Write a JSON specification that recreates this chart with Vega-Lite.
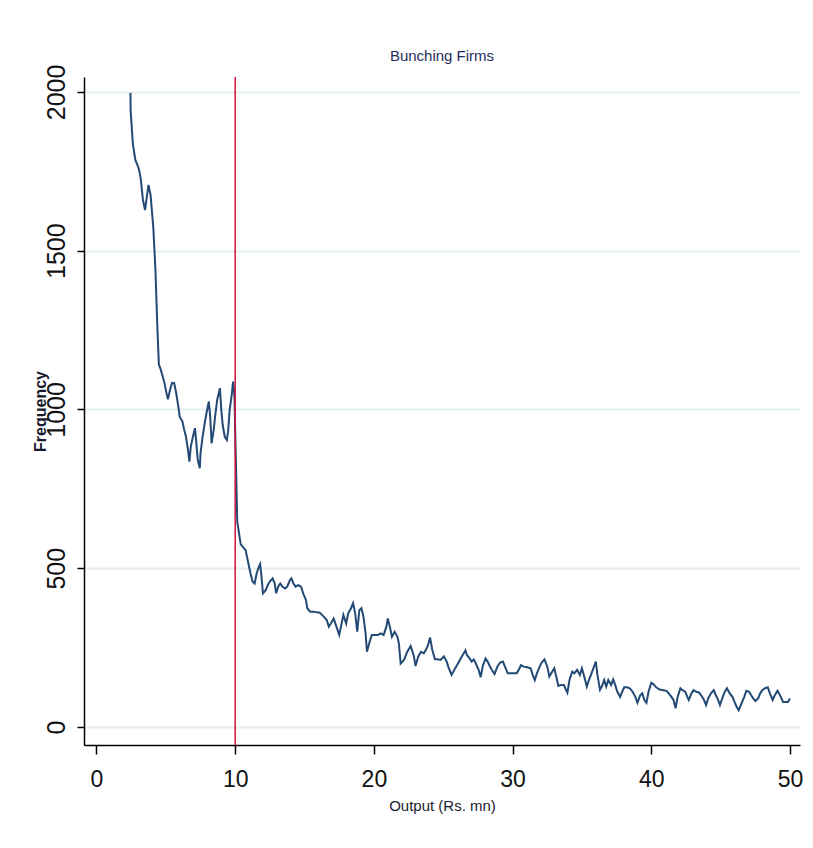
{
"$schema": "https://vega.github.io/schema/vega-lite/v6.json",
"width": 716,
"height": 668,
"autosize": {"type": "none"},
"padding": {"left": 84, "top": 77, "right": 13, "bottom": 103},
"background": "white",
"title": {"text": "Bunching Firms", "fontSize": 15, "font": "Liberation Sans, sans-serif", "fontWeight": "normal", "color": "#1f2d5c", "offset": 0, "anchor": "middle"},
"config": {"view": {"stroke": null}},
"layer": [
{
"data": {"values": [
{"x":2.45,"y":1997},{"x":2.46,"y":1943},{"x":2.62,"y":1838},{"x":2.8,"y":1786},{"x":3.0,"y":1765},{"x":3.1,"y":1749},{"x":3.2,"y":1723},{"x":3.35,"y":1660},{"x":3.5,"y":1628},{"x":3.6,"y":1660},{"x":3.75,"y":1707},{"x":3.9,"y":1675},{"x":4.0,"y":1623},{"x":4.1,"y":1571},{"x":4.25,"y":1439},{"x":4.4,"y":1245},{"x":4.5,"y":1140},{"x":4.6,"y":1130},{"x":4.78,"y":1103},{"x":4.9,"y":1083},{"x":5.05,"y":1051},{"x":5.15,"y":1032},{"x":5.3,"y":1061},{"x":5.45,"y":1084},{"x":5.6,"y":1083},{"x":5.75,"y":1051},{"x":5.9,"y":1009},{"x":6.0,"y":977},{"x":6.2,"y":962},{"x":6.3,"y":941},{"x":6.45,"y":914},{"x":6.6,"y":872},{"x":6.7,"y":836},{"x":6.8,"y":883},{"x":6.95,"y":914},{"x":7.1,"y":941},{"x":7.2,"y":893},{"x":7.3,"y":841},{"x":7.45,"y":815},{"x":7.5,"y":862},{"x":7.65,"y":914},{"x":7.8,"y":956},{"x":7.95,"y":993},{"x":8.1,"y":1025},{"x":8.2,"y":977},{"x":8.3,"y":893},{"x":8.45,"y":935},{"x":8.55,"y":977},{"x":8.7,"y":1030},{"x":8.9,"y":1067},{"x":9.0,"y":998},{"x":9.1,"y":951},{"x":9.25,"y":914},{"x":9.4,"y":904},{"x":9.5,"y":935},{"x":9.6,"y":998},{"x":9.75,"y":1046},{"x":9.85,"y":1088},{"x":9.95,"y":1040},{"x":10.0,"y":935},{"x":10.08,"y":780},{"x":10.15,"y":646},{"x":10.4,"y":575},{"x":10.75,"y":557},{"x":10.9,"y":526},{"x":11.1,"y":484},{"x":11.25,"y":458},{"x":11.4,"y":452},{"x":11.55,"y":484},{"x":11.67,"y":500},{"x":11.8,"y":513},{"x":11.9,"y":473},{"x":12.0,"y":421},{"x":12.2,"y":431},{"x":12.35,"y":447},{"x":12.5,"y":458},{"x":12.7,"y":468},{"x":12.85,"y":452},{"x":12.95,"y":421},{"x":13.1,"y":442},{"x":13.25,"y":452},{"x":13.4,"y":442},{"x":13.6,"y":436},{"x":13.75,"y":442},{"x":13.95,"y":463},{"x":14.05,"y":468},{"x":14.2,"y":452},{"x":14.35,"y":442},{"x":14.55,"y":447},{"x":14.75,"y":442},{"x":14.9,"y":421},{"x":15.1,"y":400},{"x":15.2,"y":374},{"x":15.4,"y":363},{"x":15.65,"y":363},{"x":15.9,"y":361},{"x":16.1,"y":360},{"x":16.4,"y":347},{"x":16.6,"y":337},{"x":16.75,"y":316},{"x":16.9,"y":326},{"x":17.1,"y":342},{"x":17.3,"y":316},{"x":17.5,"y":290},{"x":17.65,"y":321},{"x":17.8,"y":353},{"x":18.0,"y":326},{"x":18.15,"y":358},{"x":18.35,"y":374},{"x":18.5,"y":390},{"x":18.65,"y":358},{"x":18.8,"y":300},{"x":18.95,"y":368},{"x":19.1,"y":374},{"x":19.25,"y":347},{"x":19.4,"y":295},{"x":19.5,"y":237},{"x":19.7,"y":269},{"x":19.85,"y":290},{"x":20.05,"y":290},{"x":20.3,"y":290},{"x":20.5,"y":295},{"x":20.7,"y":290},{"x":20.9,"y":316},{"x":21.0,"y":342},{"x":21.15,"y":316},{"x":21.3,"y":284},{"x":21.5,"y":300},{"x":21.7,"y":284},{"x":21.8,"y":263},{"x":21.93,"y":200},{"x":22.17,"y":211},{"x":22.41,"y":237},{"x":22.65,"y":255},{"x":22.89,"y":222},{"x":23.0,"y":192},{"x":23.2,"y":222},{"x":23.4,"y":237},{"x":23.6,"y":232},{"x":23.75,"y":243},{"x":23.9,"y":258},{"x":24.05,"y":282},{"x":24.2,"y":245},{"x":24.4,"y":213},{"x":24.6,"y":213},{"x":24.8,"y":211},{"x":25.05,"y":222},{"x":25.25,"y":206},{"x":25.4,"y":185},{"x":25.6,"y":164},{"x":25.8,"y":180},{"x":26.0,"y":195},{"x":26.2,"y":211},{"x":26.4,"y":227},{"x":26.6,"y":241},{"x":26.7,"y":227},{"x":26.9,"y":216},{"x":27.05,"y":206},{"x":27.2,"y":213},{"x":27.35,"y":200},{"x":27.55,"y":180},{"x":27.7,"y":157},{"x":27.85,"y":192},{"x":28.05,"y":216},{"x":28.2,"y":206},{"x":28.35,"y":192},{"x":28.5,"y":180},{"x":28.7,"y":167},{"x":28.9,"y":190},{"x":29.1,"y":203},{"x":29.3,"y":206},{"x":29.45,"y":190},{"x":29.65,"y":169},{"x":29.9,"y":169},{"x":30.1,"y":169},{"x":30.3,"y":169},{"x":30.5,"y":185},{"x":30.6,"y":195},{"x":30.8,"y":190},{"x":31.05,"y":188},{"x":31.3,"y":185},{"x":31.45,"y":164},{"x":31.6,"y":148},{"x":31.75,"y":169},{"x":31.95,"y":190},{"x":32.1,"y":203},{"x":32.3,"y":213},{"x":32.5,"y":190},{"x":32.65,"y":159},{"x":32.85,"y":174},{"x":33.0,"y":185},{"x":33.15,"y":159},{"x":33.3,"y":129},{"x":33.5,"y":132},{"x":33.7,"y":132},{"x":33.85,"y":117},{"x":33.95,"y":108},{"x":34.1,"y":148},{"x":34.3,"y":174},{"x":34.45,"y":169},{"x":34.65,"y":180},{"x":34.85,"y":164},{"x":35.0,"y":185},{"x":35.2,"y":153},{"x":35.35,"y":127},{"x":35.5,"y":148},{"x":35.65,"y":164},{"x":35.8,"y":182},{"x":36.0,"y":206},{"x":36.1,"y":169},{"x":36.3,"y":117},{"x":36.45,"y":129},{"x":36.6,"y":148},{"x":36.75,"y":127},{"x":36.9,"y":148},{"x":37.1,"y":132},{"x":37.25,"y":150},{"x":37.4,"y":132},{"x":37.55,"y":111},{"x":37.75,"y":95},{"x":37.9,"y":111},{"x":38.05,"y":125},{"x":38.25,"y":125},{"x":38.45,"y":122},{"x":38.65,"y":111},{"x":38.85,"y":95},{"x":39.0,"y":76},{"x":39.2,"y":100},{"x":39.35,"y":106},{"x":39.5,"y":85},{"x":39.65,"y":76},{"x":39.8,"y":111},{"x":40.0,"y":139},{"x":40.15,"y":135},{"x":40.35,"y":125},{"x":40.6,"y":118},{"x":40.85,"y":116},{"x":41.1,"y":114},{"x":41.25,"y":106},{"x":41.45,"y":95},{"x":41.6,"y":85},{"x":41.75,"y":59},{"x":41.9,"y":95},{"x":42.1,"y":122},{"x":42.25,"y":116},{"x":42.45,"y":111},{"x":42.6,"y":95},{"x":42.7,"y":85},{"x":42.9,"y":106},{"x":43.05,"y":116},{"x":43.25,"y":111},{"x":43.45,"y":108},{"x":43.6,"y":100},{"x":43.8,"y":85},{"x":43.95,"y":69},{"x":44.1,"y":90},{"x":44.3,"y":106},{"x":44.5,"y":116},{"x":44.65,"y":100},{"x":44.8,"y":87},{"x":44.95,"y":69},{"x":45.15,"y":95},{"x":45.3,"y":111},{"x":45.45,"y":122},{"x":45.65,"y":106},{"x":45.85,"y":95},{"x":46.0,"y":79},{"x":46.15,"y":64},{"x":46.3,"y":53},{"x":46.5,"y":74},{"x":46.7,"y":95},{"x":46.85,"y":114},{"x":47.05,"y":111},{"x":47.2,"y":100},{"x":47.35,"y":90},{"x":47.5,"y":82},{"x":47.7,"y":90},{"x":47.85,"y":106},{"x":48.0,"y":116},{"x":48.2,"y":122},{"x":48.4,"y":125},{"x":48.55,"y":106},{"x":48.75,"y":85},{"x":48.9,"y":100},{"x":49.1,"y":114},{"x":49.3,"y":98},{"x":49.5,"y":79},{"x":49.7,"y":79},{"x":49.85,"y":79},{"x":50.0,"y":90}
]},
"mark": {"type": "line", "color": "#234a74", "strokeWidth": 2},
"encoding": {
"x": {"field": "x", "type": "quantitative", "scale": {"domain": [-0.9, 50.72], "nice": false, "zero": false},
"axis": {"values": [0, 10, 20, 30, 40, 50], "format": "d", "title": "Output (Rs. mn)", "titleFont": "Liberation Sans, sans-serif", "titleFontSize": 15, "titleFontWeight": "normal", "titleColor": "#1a1a2e", "titleY": 60, "titleBaseline": "middle",
"labelFont": "Liberation Sans, sans-serif", "labelFontSize": 23, "labelColor": "#111111", "labelPadding": 14, "tickSize": 9, "tickColor": "#000000", "tickWidth": 1.5, "domainColor": "#000000", "domainWidth": 1.5, "grid": false}},
"y": {"field": "y", "type": "quantitative", "scale": {"domain": [-56.7, 2047], "nice": false, "zero": false},
"axis": {"values": [0, 500, 1000, 1500, 2000], "format": "d", "title": "Frequency", "titleFont": "Liberation Sans, sans-serif", "titleFontSize": 16, "titleFontWeight": "bold", "titleColor": "#1a1a2e", "titleX": -44, "titleY": 334, "titleBaseline": "middle", "titleAlign": "center",
"labelFont": "Liberation Sans, sans-serif", "labelFontSize": 25, "labelColor": "#111111", "labelAngle": -90, "labelPadding": 8, "tickSize": 7, "tickColor": "#000000", "tickWidth": 1.5, "domainColor": "#000000", "domainWidth": 1.5,
"grid": true, "gridColor": "#e4edef", "gridWidth": 2}}
}
},
{
"data": {"values": [{"x": 10}]},
"mark": {"type": "rule", "color": "#d0103a", "strokeWidth": 1.5},
"encoding": {"x": {"field": "x", "type": "quantitative"}}
}
]
}
